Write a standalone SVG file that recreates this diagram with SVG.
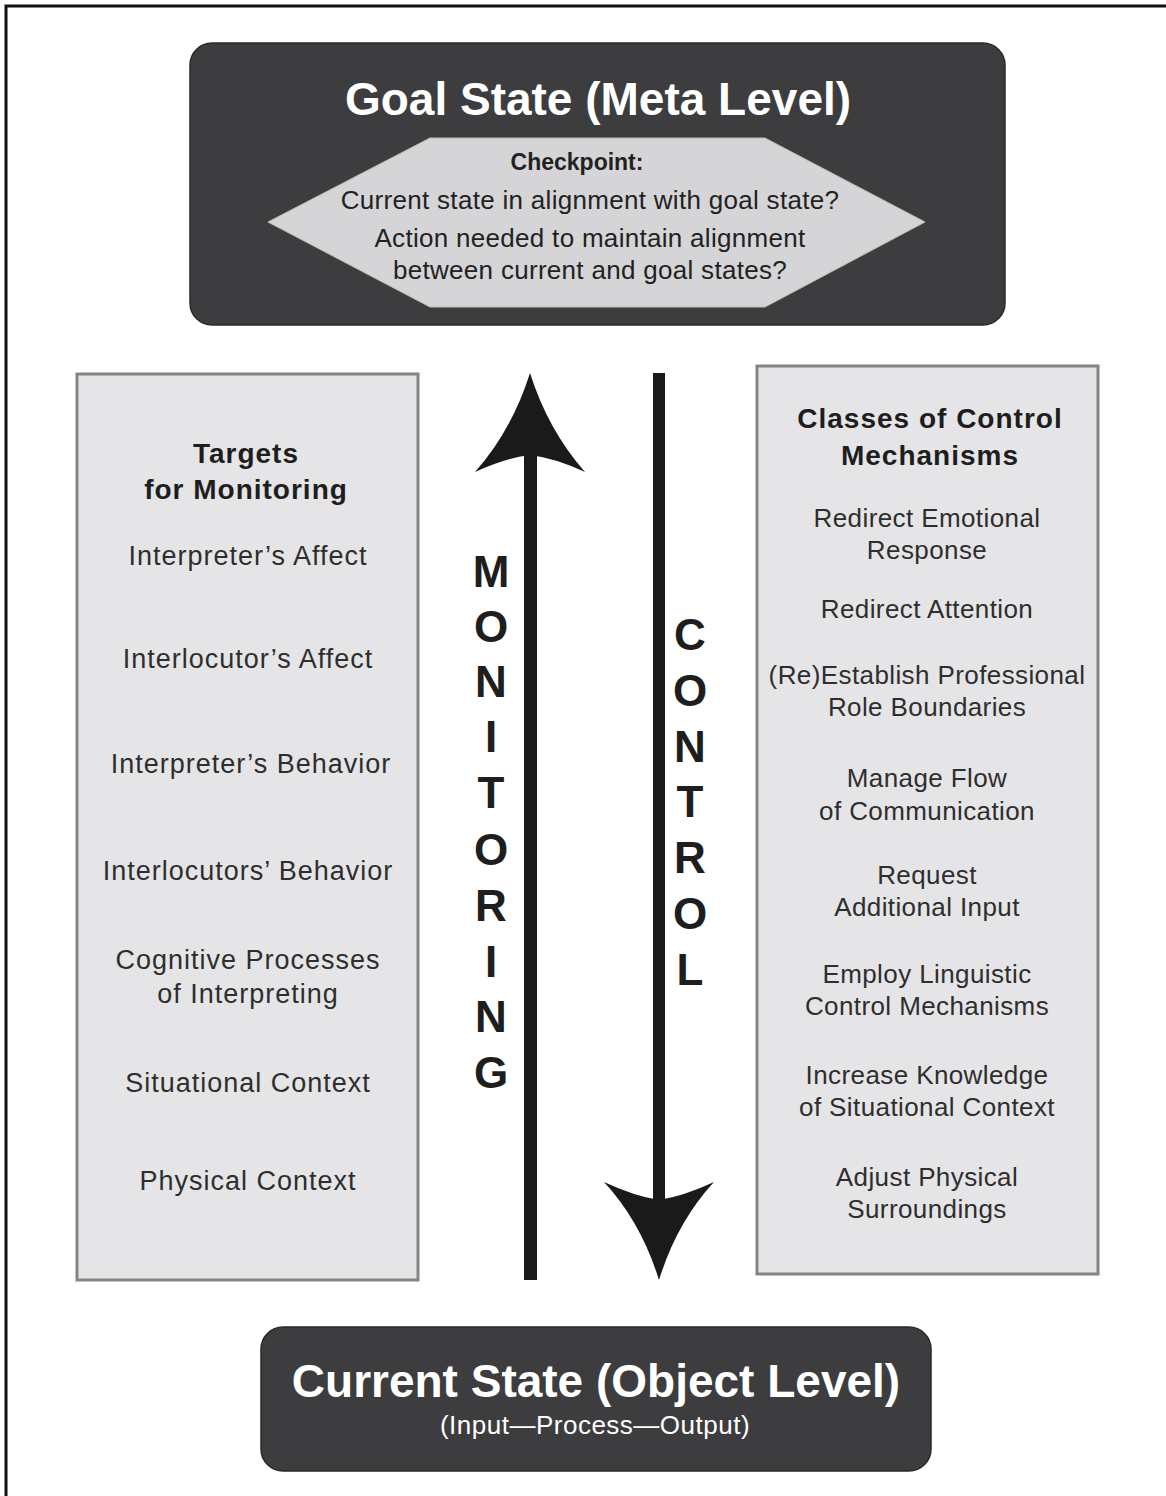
<svg xmlns="http://www.w3.org/2000/svg" width="1166" height="1496" viewBox="0 0 1166 1496">
  <style>
    .dark { fill: #3d3d3f; stroke: #2a2a2a; stroke-width: 1.5; }
    .panel { fill: #e5e5e7; stroke: #858585; stroke-width: 3; }
    .hex { fill: #d5d5d7; stroke: #bdbdbd; stroke-width: 1; }
    .title { font-family: "Liberation Sans", Arial, sans-serif; font-weight: bold; fill: #ffffff; text-anchor: middle; }
    .hexb { font-family: "Liberation Sans", Arial, sans-serif; font-weight: bold; font-size: 23px; fill: #222; text-anchor: middle; }
    .hext { font-family: "Liberation Sans", Arial, sans-serif; font-size: 26px; letter-spacing: 0.3px; fill: #222; text-anchor: middle; }
    .head { font-family: "Liberation Sans", Arial, sans-serif; font-weight: bold; font-size: 28px; letter-spacing: 1px; fill: #1e1e1e; text-anchor: middle; }
    .litem { font-family: "Liberation Sans", Arial, sans-serif; font-size: 27px; letter-spacing: 1px; fill: #2e2e2e; text-anchor: middle; }
    .ritem { font-family: "Liberation Sans", Arial, sans-serif; font-size: 26px; letter-spacing: 0.4px; fill: #2e2e2e; text-anchor: middle; }
    .vert { font-family: "Liberation Sans", Arial, sans-serif; font-weight: bold; font-size: 44px; fill: #1e1e1e; text-anchor: middle; }
    .sub { font-family: "Liberation Sans", Arial, sans-serif; font-size: 26px; letter-spacing: 0.5px; fill: #ffffff; text-anchor: middle; }
    .shaft { fill: #1a1a1a; }
  </style>

  <path d="M6,1496 V6 H1166" fill="none" stroke="#111" stroke-width="3"/>

  <g id="goal-state">
    <rect class="dark" x="190" y="43" width="815" height="282" rx="22" ry="22"/>
    <text class="title" x="598" y="115" font-size="46">Goal State (Meta Level)</text>
    <g id="checkpoint">
      <polygon class="hex" points="268,222 430,138 765,138 925,222 765,307 430,307"/>
      <text class="hexb" x="577" y="170">Checkpoint:</text>
      <text class="hext" x="590" y="209">Current state in alignment with goal state?</text>
      <text class="hext" x="590" y="247">Action needed to maintain alignment</text>
      <text class="hext" x="590" y="279">between current and goal states?</text>
    </g>
  </g>

  <g id="targets-monitoring">
    <rect class="panel" x="77" y="374" width="341" height="906"/>
    <text class="head" x="246" y="463">Targets</text>
    <text class="head" x="246" y="499">for Monitoring</text>
    <text class="litem" x="248" y="565">Interpreter’s Affect</text>
    <text class="litem" x="248" y="668">Interlocutor’s Affect</text>
    <text class="litem" x="251" y="773">Interpreter’s Behavior</text>
    <text class="litem" x="248" y="880">Interlocutors’ Behavior</text>
    <text class="litem" x="248" y="969">Cognitive Processes</text>
    <text class="litem" x="248" y="1003">of Interpreting</text>
    <text class="litem" x="248" y="1092">Situational Context</text>
    <text class="litem" x="248" y="1190">Physical Context</text>
  </g>

  <g id="control-mechanisms">
    <rect class="panel" x="757" y="366" width="341" height="908"/>
    <text class="head" x="930" y="428">Classes of Control</text>
    <text class="head" x="930" y="465">Mechanisms</text>
    <text class="ritem" x="927" y="527">Redirect Emotional</text>
    <text class="ritem" x="927" y="559">Response</text>
    <text class="ritem" x="927" y="618">Redirect Attention</text>
    <text class="ritem" x="927" y="684">(Re)Establish Professional</text>
    <text class="ritem" x="927" y="716">Role Boundaries</text>
    <text class="ritem" x="927" y="787">Manage Flow</text>
    <text class="ritem" x="927" y="820">of Communication</text>
    <text class="ritem" x="927" y="884">Request</text>
    <text class="ritem" x="927" y="916">Additional Input</text>
    <text class="ritem" x="927" y="983">Employ Linguistic</text>
    <text class="ritem" x="927" y="1015">Control Mechanisms</text>
    <text class="ritem" x="927" y="1084">Increase Knowledge</text>
    <text class="ritem" x="927" y="1116">of Situational Context</text>
    <text class="ritem" x="927" y="1186">Adjust Physical</text>
    <text class="ritem" x="927" y="1218">Surroundings</text>
  </g>

  <g id="current-state">
    <rect class="dark" x="261" y="1327" width="670" height="144" rx="22" ry="22"/>
    <text class="title" x="596" y="1397" font-size="46">Current State (Object Level)</text>
    <text class="sub" x="595" y="1434">(Input—Process—Output)</text>
  </g>

  <g id="connectors">
    <g id="monitoring-arrow">
      <rect class="shaft" x="524" y="450" width="13" height="830"/>
      <path class="shaft" d="M530,373 Q548,430 585,472 Q555,458 530,455 Q505,458 475,472 Q512,430 530,373 Z"/>
    </g>
    <g id="control-arrow">
      <rect class="shaft" x="653" y="373" width="12" height="832"/>
      <path class="shaft" d="M659,1280 Q641,1222 604,1182 Q634,1196 659,1200 Q684,1196 714,1182 Q677,1222 659,1280 Z"/>
    </g>
  </g>

  <g id="monitoring-label">
    <text class="vert" x="491" y="587">M</text>
    <text class="vert" x="491" y="642">O</text>
    <text class="vert" x="491" y="697">N</text>
    <text class="vert" x="491" y="752">I</text>
    <text class="vert" x="491" y="808">T</text>
    <text class="vert" x="491" y="865">O</text>
    <text class="vert" x="491" y="921">R</text>
    <text class="vert" x="491" y="977">I</text>
    <text class="vert" x="491" y="1032">N</text>
    <text class="vert" x="491" y="1088">G</text>
  </g>
  <g id="control-label">
    <text class="vert" x="690" y="650">C</text>
    <text class="vert" x="690" y="706">O</text>
    <text class="vert" x="690" y="762">N</text>
    <text class="vert" x="690" y="817">T</text>
    <text class="vert" x="690" y="873">R</text>
    <text class="vert" x="690" y="929">O</text>
    <text class="vert" x="690" y="985">L</text>
  </g>
</svg>
